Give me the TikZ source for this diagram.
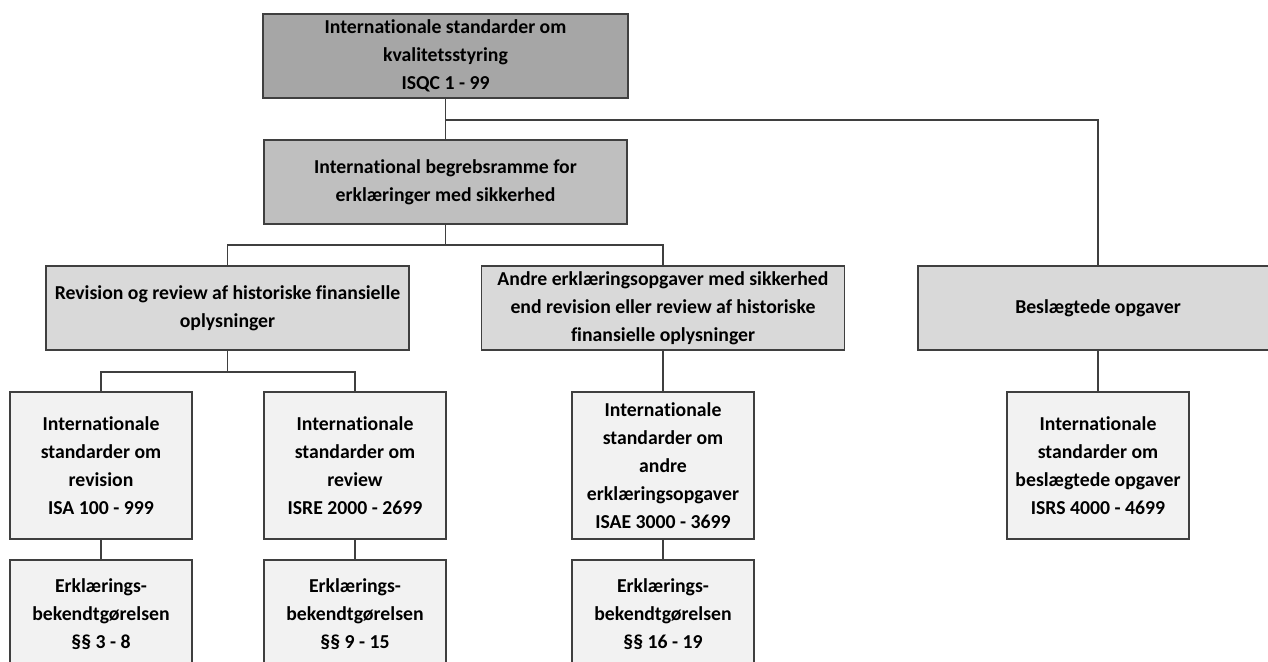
\documentclass[tikz,border=0pt]{standalone}
\usepackage{fontspec}
\setmainfont{Carlito}[Ligatures=NoCommon]
\definecolor{boxline}{HTML}{3F3F3F}
\definecolor{lvlone}{HTML}{A6A6A6}
\definecolor{lvltwo}{HTML}{BFBFBF}
\definecolor{lvlthree}{HTML}{D9D9D9}
\definecolor{lvlfour}{HTML}{F2F2F2}
\begin{document}
\begin{tikzpicture}[x=0.75pt,y=-0.75pt,
    box/.style={draw=boxline,line width=1.3pt,align=center,inner sep=0pt,
        font=\fontsize{14.8}{20.9}\selectfont\bfseries},
    pxsize/.style 2 args={minimum width=#1*0.75pt,minimum height=#2*0.75pt},
    link/.style={draw=boxline,line width=1.2pt}]
    \useasboundingbox (0,0) rectangle (1268,661);
    \clip (0,0) rectangle (1268,661);
    \node[box,fill=lvlone,pxsize={365}{84}] (isqc) at (445.5,56) {Internationale standarder om\\kvalitetsstyring\\ISQC 1 - 99};
    \node[box,fill=lvltwo,pxsize={363}{84}] (ramme) at (445.5,182) {International begrebsramme for\\erklæringer med sikkerhed};
    \node[box,fill=lvlthree,pxsize={363}{84}] (revision) at (227.5,308) {Revision og review af historiske finansielle\\oplysninger};
    \node[box,fill=lvlthree,pxsize={363}{84}] (andre) at (663,308) {Andre erklæringsopgaver med sikkerhed\\end revision eller review af historiske\\finansielle oplysninger};
    \node[box,fill=lvlthree,pxsize={360}{84}] (beslaegtede) at (1098,308) {Beslægtede opgaver};
    \node[box,fill=lvlfour,pxsize={182}{147}] (isa) at (101,465.5) {Internationale\\standarder om\\revision\\ISA 100 - 999};
    \node[box,fill=lvlfour,pxsize={182}{147}] (isre) at (355,465.5) {Internationale\\standarder om\\review\\ISRE 2000 - 2699};
    \node[box,fill=lvlfour,pxsize={182}{147}] (isae) at (663,465.5) {Internationale\\standarder om\\andre\\erklæringsopgaver\\ISAE 3000 - 3699};
    \node[box,fill=lvlfour,pxsize={182}{147}] (isrs) at (1098,465.5) {Internationale\\standarder om\\beslægtede opgaver\\ISRS 4000 - 4699};
    \node[box,fill=lvlfour,pxsize={182}{108}] (erklone) at (101,614) {Erklærings-\\bekendtgørelsen\\§§ 3 - 8};
    \node[box,fill=lvlfour,pxsize={182}{108}] (erkltwo) at (355,614) {Erklærings-\\bekendtgørelsen\\§§ 9 - 15};
    \node[box,fill=lvlfour,pxsize={182}{108}] (erklthree) at (663,614) {Erklærings-\\bekendtgørelsen\\§§ 16 - 19};
    \draw[link] (isqc.south) -- ++(0,21) coordinate (splitone) -- (ramme.north);
    \draw[link] (splitone) -| (beslaegtede.north);
    \draw[link] (ramme.south) -- ++(0,20) coordinate (splittwo);
    \draw[link] (revision.north) |- (splittwo) -| (andre.north);
    \draw[link] (revision.south) -- ++(0,21) coordinate (splitthree);
    \draw[link] (isa.north) |- (splitthree) -| (isre.north);
    \draw[link] (andre.south) -- (isae.north);
    \draw[link] (beslaegtede.south) -- (isrs.north);
    \foreach \a/\b in {isa/erklone,isre/erkltwo,isae/erklthree}
    {
        \draw[link] (\a.south) -- (\b.north);
    }
\end{tikzpicture}
\end{document}
